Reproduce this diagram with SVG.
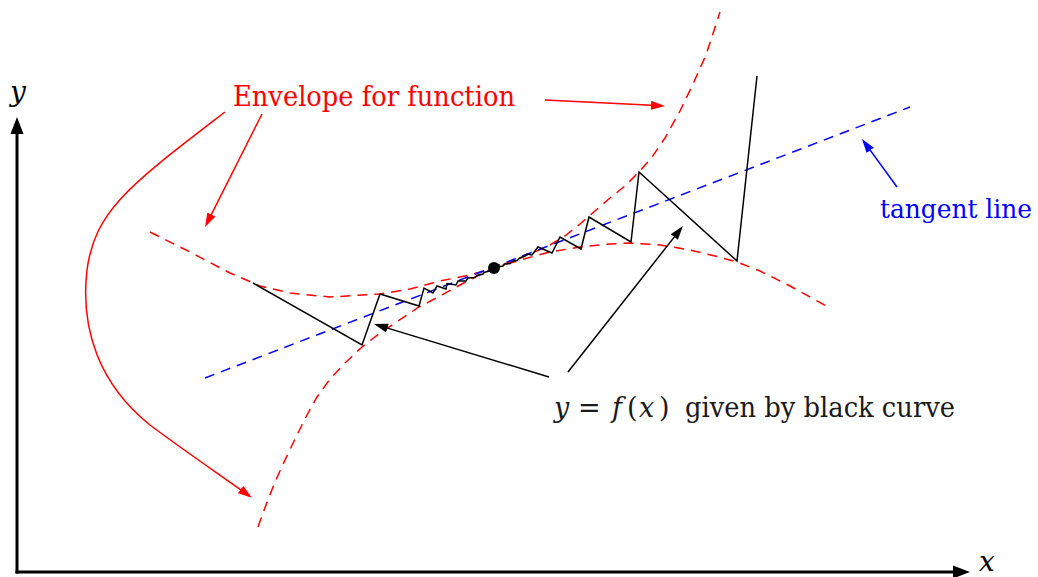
<svg xmlns="http://www.w3.org/2000/svg" width="1038" height="577" viewBox="0 0 1038 577">
<style>
.lbl{font-family:"DejaVu Serif","Liberation Serif",serif;font-size:27px}
.it{font-style:italic}
.red{fill:#ff0000}
.blue{fill:#0000ff}
.blk{fill:#1a1a1a}
.dash{fill:none;stroke-width:1.5;stroke-dasharray:10 7}
.axis{fill:none;stroke:#000;stroke-width:3}
.conn{fill:none;stroke-width:1.5}
</style>
<defs>
<marker id="ahAxis" viewBox="-18 -7 18 14" refX="-5" refY="0" markerWidth="18" markerHeight="14" markerUnits="userSpaceOnUse" orient="auto">
<path d="M0,0 L-17,-6.5 L-17,6.5 z" fill="#000"/>
</marker>
<marker id="ahRed" viewBox="-14 -5 14 10" refX="-3" refY="0" markerWidth="14" markerHeight="10" markerUnits="userSpaceOnUse" orient="auto">
<path d="M0,0 L-14,-4.5 L-14,4.5 z" fill="#ff0000"/>
</marker>
<marker id="ahBlack" viewBox="-14 -5 14 10" refX="-3" refY="0" markerWidth="14" markerHeight="10" markerUnits="userSpaceOnUse" orient="auto">
<path d="M0,0 L-14,-4.5 L-14,4.5 z" fill="#000"/>
</marker>
<marker id="ahBlue" viewBox="-14 -5 14 10" refX="-3" refY="0" markerWidth="14" markerHeight="10" markerUnits="userSpaceOnUse" orient="auto">
<path d="M0,0 L-14,-4.5 L-14,4.5 z" fill="#0000ff"/>
</marker>
</defs>
<rect width="1038" height="577" fill="#fff"/>

<g id="axes">
<path class="axis" d="M17,573.5 L17,122" marker-end="url(#ahAxis)"/>
<path class="axis" d="M15.5,572 L965,572" marker-end="url(#ahAxis)"/>
<text class="lbl it" x="10" y="101" style="font-size:28px">y</text>
<text class="lbl it" x="979" y="571" style="font-size:28px">x</text>
</g>

<g id="envelope-upper">
<polyline class="dash" stroke="#ff0000" points="258,527 266,505 275,482 285,460 296,437 307,415 317,397 330,379 345,363 362,347 380,333 398,321 419,307 440,296 460,285 477,276 494,268 510,262 530,254 550,245 565,236 580,224 595,211 610,198 625,186 639,172 652,157 665,138 680,111 693,84 706,55 720,12"/>
</g>

<g id="envelope-lower">
<polyline class="dash" stroke="#ff0000" points="150,232 190,252 230,273 260,286 290,293 330,297 380,294 410,289 440,281 470,275 494,268 520,260 550,252 580,247 610,244 630,243 660,245 690,250 715,256 737,262 760,271 790,286 830,308"/>
</g>

<g id="tangent-line">
<line class="dash" stroke="#0000ff" x1="205" y1="378" x2="910" y2="107"/>
</g>

<g id="curve">
<polyline fill="none" stroke="#000" stroke-width="1.5" stroke-linejoin="miter" points="253,283 362,345 380,294 419,306 424,288 433,293 437,286 446,289 447,283.5 456,285 458,281 466,281 468,278 475,277.5 477,275.5 483,274 484,272.5 489,271 490,270 494,268 500,266.5 503,266 505,264 510,263.5 513,261 517,260.5 520,258 525,256 527,254 532,255 538,247 552,253 560,237 581,249 589,217 631,242 639,172 737,261 757,76"/>
</g>

<g id="tangent-point">
<circle cx="494" cy="268" r="6" fill="#000"/>
</g>

<g id="label-envelope">
<text class="lbl red" x="233" y="106" textLength="282" lengthAdjust="spacingAndGlyphs">Envelope for function</text>
</g>

<g id="label-tangent">
<text class="lbl blue" x="880" y="218" style="font-size:25.5px" textLength="152" lengthAdjust="spacingAndGlyphs">tangent line</text>
</g>

<g id="label-curve">
<text class="lbl blk" y="417"><tspan class="it" x="554">y</tspan><tspan x="578">=</tspan><tspan class="it" x="612">f</tspan><tspan x="627">(</tspan><tspan class="it" x="639">x</tspan><tspan x="659">)</tspan><tspan x="685" textLength="270" lengthAdjust="spacingAndGlyphs">given by black curve</tspan></text>
</g>

<g id="connectors">
<path class="conn" stroke="#ff0000" d="M262,114 L206.4,224.3" marker-end="url(#ahRed)"/>
<path class="conn" stroke="#ff0000" d="M225,112 C130,185 95,210 87,270 C80,330 100,385 150,425 C190,455 222,476 249.5,496" marker-end="url(#ahRed)"/>
<path class="conn" stroke="#ff0000" d="M545,100 L662,105.85" marker-end="url(#ahRed)"/>
<path class="conn" stroke="#000" d="M549,377 L376.9,324.9" marker-end="url(#ahBlack)"/>
<path class="conn" stroke="#000" d="M568,372 L681.1,228.4" marker-end="url(#ahBlack)"/>
<path class="conn" stroke="#0000ff" d="M897,187 L863.8,141.4" marker-end="url(#ahBlue)"/>
</g>
</svg>
